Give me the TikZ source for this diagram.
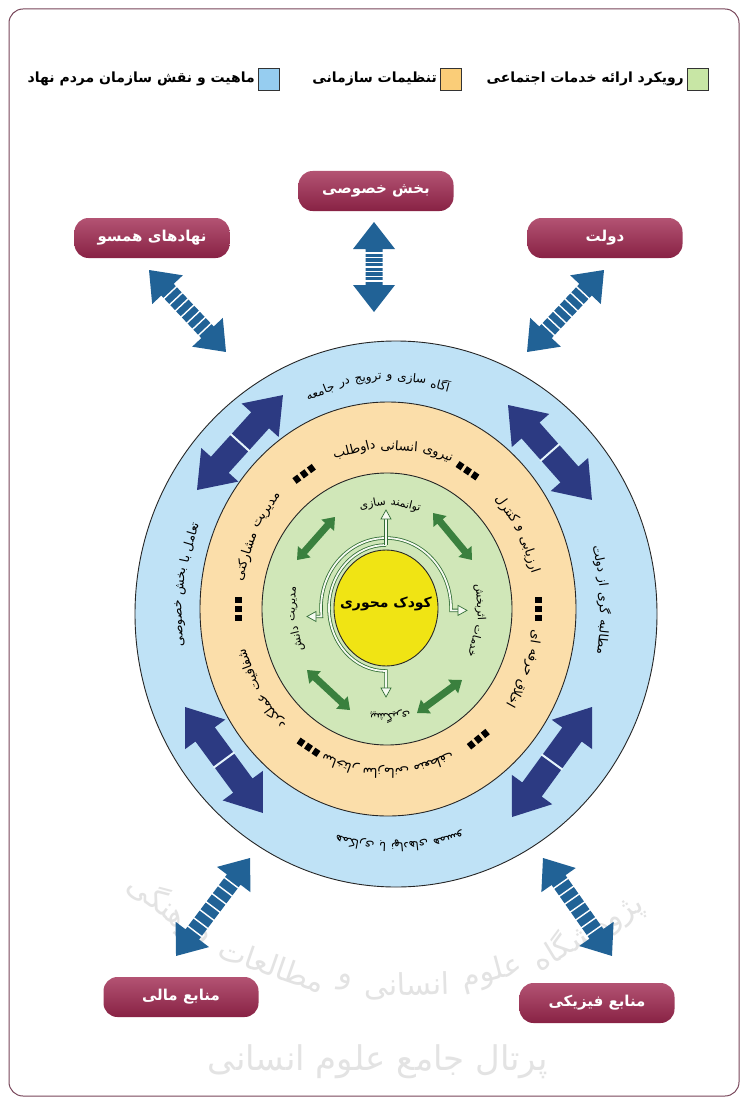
\documentclass[tikz,border=0pt]{standalone}
\usepackage{fontspec}
\usetikzlibrary{shapes.geometric}
\TeXXeTstate=1
\newfontfamily\pf[Script=Arabic]{DejaVu Sans}
\definecolor{ringblue}{RGB}{191,226,246}
\definecolor{ringorange}{RGB}{251,222,170}
\definecolor{ringgreen}{RGB}{208,231,184}
\definecolor{coreyellow}{RGB}{240,228,20}
\definecolor{boxred}{RGB}{160,40,80}
\definecolor{steelarrow}{RGB}{33,98,150}
\definecolor{navyarrow}{RGB}{44,58,130}
\definecolor{dkgreen}{RGB}{58,128,62}
\definecolor{legG}{RGB}{200,230,165}
\definecolor{legO}{RGB}{250,205,120}
\definecolor{legB}{RGB}{150,205,240}
\definecolor{framecol}{RGB}{120,70,90}

\newbox\awbox
\def\awsp{4}
\makeatletter
\newcommand{\awmeasure}[2]{%
  \begin{pgfinterruptpicture}%
    \setbox\awbox=\hbox{#1\beginR#2\endR}%
    \xdef\awwd{\strip@pt\wd\awbox}%
  \end{pgfinterruptpicture}}
% [dir]{name}{cx}{cy}{a}{b}{tc}{font}{words}
\newcommand{\arcwords}[9][1]{%
  \def\awtot{0}%
  \@for\w:=#9\do{%
    \awmeasure{#8}{\w}%
    \pgfmathsetmacro\awtot{\awtot+\awwd+\awsp}}%
  \pgfmathsetmacro\aws{100*sqrt((#5/100*sin(#7))^2+(#6/100*cos(#7))^2)}%
  \pgfmathsetmacro\awstart{#7-(#1)*(\awtot-\awsp)/2/\aws*57.29578}%
  \def\awcum{0}\def\awi{0}%
  \@for\w:=#9\do{%
    \awmeasure{#8}{\w}%
    \pgfmathsetmacro\awt{\awstart+(#1)*(\awcum+\awwd/2)/\aws*57.29578}%
    \pgfmathsetmacro\awx{#3+#5*cos(\awt)}%
    \pgfmathsetmacro\awy{#4-#6*sin(\awt)}%
    \pgfmathsetmacro\awr{atan2(#5*sin(\awt),#6*cos(\awt))-(#1)*90}%
    \pgfmathtruncatemacro\awi{\awi+1}%
    \node[inner sep=0, rotate=\awr] (#2\awi) at (\awx,\awy) {#8\beginR\w\endR};%
    \pgfmathsetmacro\awcum{\awcum+\awwd+\awsp}}%
}
\makeatother
% {from}{to}{shaft half}{head half}{head len}{style}{deco}
\newcommand{\blockarrow}[7]{%
  \pgfpointanchor{#1}{center}\pgfgetlastxy{\bxa}{\bya}%
  \pgfpointanchor{#2}{center}\pgfgetlastxy{\bxb}{\byb}%
  \pgfmathsetmacro\bang{atan2(\byb-\bya,\bxb-\bxa)}%
  \pgfmathsetmacro\blen{veclen(\bxb-\bxa,\byb-\bya)}%
  \begin{scope}[shift={(#1)}, rotate=\bang]
    \fill[#6] (0,0) -- (#5,#4) -- (#5,#3) -- ({\blen-#5},#3) -- ({\blen-#5},#4) -- (\blen,0)
      -- ({\blen-#5},-#4) -- ({\blen-#5},-#3) -- (#5,-#3) -- (#5,-#4) -- cycle;
    #7
  \end{scope}}
\newcommand{\ringsep}[2]{%
  \pgfmathsetmacro\rsepx{388+150*cos(#2)}%
  \pgfmathsetmacro\rsepy{609-163*sin(#2)}%
  \pgfmathsetmacro\rsepr{atan2(150*sin(#2),163*cos(#2))-90}%
  \node[inner sep=0, rotate=\rsepr] (#1) at (\rsepx,\rsepy)
    {\rule{6pt}{7pt}\hspace{3pt}\rule{6pt}{7pt}\hspace{3pt}\rule{6pt}{7pt}};}
\newcommand{\openhead}[3]{%
  \draw[dkgreen!85!black, fill=white!80!ringgreen, line width=0.7pt, shift={(#1,#2)}, rotate=#3]
    (0,0) -- (-9,5) -- (-9,-5) -- cycle;}

\tikzset{
  pill/.style={rounded corners=14pt, minimum width=155pt, minimum height=40pt, inner sep=0,
    top color=boxred!80!white, bottom color=boxred!85!black,
    font=\pf\bfseries\fontsize{15}{17}\selectfont, text=white},
  legsq/.style={draw=black!80, line width=0.9pt, minimum width=21pt, minimum height=22pt, inner sep=0},
  legtxt/.style={anchor=east, inner sep=0, font=\pf\bfseries\fontsize{14}{16}\selectfont},
  ring/.style={ellipse, draw=black!85, line width=0.9pt, inner sep=0},
  track/.style={draw=dkgreen!85!black, double=white!80!ringgreen, double distance=1.8pt, line width=0.8pt},
}

\begin{document}
\begin{tikzpicture}[x=1pt,y=-1pt]
\useasboundingbox (0,0) rectangle (748,1102);
\fill[white] (0,0) rectangle (748,1102);
\draw[framecol, line width=1pt, rounded corners=14pt] (9,9) rectangle (739,1096);

% watermark
\def\awsp{12}
\arcwords[-1]{wm}{395}{614}{372}{372}{268}{\pf\fontsize{30}{36}\selectfont\color{gray!22}}{پژوهشگاه,علوم,انسانی,و,مطالعات,فرهنگی}
\node[font=\pf\fontsize{34}{40}\selectfont, text=gray!22] (wmb) at (378,1062) {\beginR پرتال جامع علوم انسانی\endR};

% legend
\node[legsq, fill=legG] (lg1) at (698,79) {};
\node[legtxt] (lt1) at (684,79) {\beginR رویکرد ارائه خدمات اجتماعی\endR};
\node[legsq, fill=legO] (lg2) at (451,79) {};
\node[legtxt] (lt2) at (437,79) {\beginR تنظیمات سازمانی\endR};
\node[legsq, fill=legB] (lg3) at (269,79) {};
\node[legtxt] (lt3) at (255,79) {\beginR ماهیت و نقش سازمان مردم نهاد\endR};

% rings
\node[ring, fill=ringblue, minimum width=522pt, minimum height=546pt] (blue) at (396,614) {};
\node[ring, fill=ringorange, minimum width=376pt, minimum height=414pt] (orange) at (388,609) {};
\node[ring, fill=ringgreen, minimum width=250pt, minimum height=272pt] (green) at (387,609) {};
\node[ring, fill=coreyellow, minimum width=104pt, minimum height=116pt] (core) at (386,608) {};
\node[font=\pf\bfseries\fontsize{14}{17}\selectfont] (coretxt) at (386,604) {\beginR کودک محوری\endR};

% green tracks
\draw[track] (386,538) arc[start angle=-90, end angle=2, x radius=65, y radius=70] -- (459,610.4);
\draw[track] (386,538) arc[start angle=-90, end angle=-187, x radius=65, y radius=70] -- (315,616.5);
\draw[track] (386,545) arc[start angle=-90, end angle=-270, x radius=57, y radius=63] -- (386,688);
\draw[track] (386,545) -- (386,519);
\openhead{467}{610.4}{0}
\openhead{307}{616.5}{180}
\openhead{386}{697}{-90}
\openhead{386}{510}{90}

% blue ring texts
\def\awsp{5}
\arcwords{bt}{392}{612}{212}{234}{94}{\pf\fontsize{12}{14}\selectfont}{آگاه,سازی,و,ترویج,در,جامعه}
\arcwords{bl}{392}{612}{212}{234}{173}{\pf\fontsize{12.5}{14}\selectfont}{تعامل,با,بخش,خصوصی}
\arcwords{br}{392}{612}{212}{234}{3}{\pf\fontsize{12.5}{14}\selectfont}{مطالبه,گری,از,دولت}
\arcwords{bb}{392}{612}{212}{234}{272}{\pf\fontsize{12}{14}\selectfont}{همکاری,با,نهادهای,همسو}

% orange ring texts
\arcwords{ot}{388}{609}{150}{163}{88}{\pf\fontsize{13}{15}\selectfont}{نیروی,انسانی,داوطلب}
\arcwords{our}{388}{609}{150}{163}{28}{\pf\fontsize{13}{15}\selectfont}{ارزیابی,و,کنترل}
\arcwords{olr}{388}{609}{150}{163}{-22}{\pf\fontsize{13}{15}\selectfont}{اخلاق,حرفه,ای}
\arcwords{ob}{388}{609}{150}{163}{270}{\pf\fontsize{13}{15}\selectfont}{ساختار,سازمانی,منعطف}
\arcwords{oll}{388}{609}{150}{163}{210}{\pf\fontsize{13}{15}\selectfont}{شفافیت,عملکرد}
\arcwords{oul}{388}{609}{150}{163}{153}{\pf\fontsize{13}{15}\selectfont}{مدیریت,مشارکتی}
\ringsep{sp1}{58}
\ringsep{sp2}{0}
\ringsep{sp3}{-53}
\ringsep{sp4}{-122}
\ringsep{sp5}{180}
\ringsep{sp6}{124}

% green ring texts
\arcwords{gt}{387}{610}{92}{107}{88}{\pf\fontsize{11}{13}\selectfont}{توانمند,سازی}
\arcwords{gr}{387}{610}{93}{107}{-6}{\pf\fontsize{11}{13}\selectfont}{خدمات,اثربخش}
\arcwords{gb}{387}{610}{92}{107}{272}{\pf\fontsize{11}{13}\selectfont}{پیشگیری}
\arcwords{gl}{387}{610}{93}{107}{185}{\pf\fontsize{11}{13}\selectfont}{مدیریت,دانش}

% green double arrows
\coordinate (g1a) at (297,560); \coordinate (g1b) at (335,517);
\coordinate (g2a) at (433,513); \coordinate (g2b) at (472,560);
\coordinate (g3a) at (417,713); \coordinate (g3b) at (462,680);
\coordinate (g4a) at (307,670); \coordinate (g4b) at (350,710);
\blockarrow{g1a}{g1b}{3.5}{8.5}{11}{dkgreen}{}
\blockarrow{g2a}{g2b}{3.5}{8.5}{11}{dkgreen}{}
\blockarrow{g3a}{g3b}{3.5}{8.5}{11}{dkgreen}{}
\blockarrow{g4a}{g4b}{3.5}{8.5}{11}{dkgreen}{}

% navy double arrows in blue ring
\coordinate (n1a) at (197,490); \coordinate (n1b) at (283,395);
\coordinate (n2a) at (508,405); \coordinate (n2b) at (592,500);
\coordinate (n3a) at (185,707); \coordinate (n3b) at (263,813);
\coordinate (n4a) at (512,817); \coordinate (n4b) at (592,707);
\blockarrow{n1a}{n1b}{12}{25}{34}{navyarrow}{\draw[white!60!ringblue, line width=2pt] ({\blen*0.5},-13) -- ({\blen*0.5},13);}
\blockarrow{n2a}{n2b}{12}{25}{34}{navyarrow}{\draw[white!60!ringblue, line width=2pt] ({\blen*0.5},-13) -- ({\blen*0.5},13);}
\blockarrow{n3a}{n3b}{12}{25}{34}{navyarrow}{\draw[white!60!ringblue, line width=2pt] ({\blen*0.5},-13) -- ({\blen*0.5},13);}
\blockarrow{n4a}{n4b}{12}{25}{34}{navyarrow}{\draw[white!60!ringblue, line width=2pt] ({\blen*0.5},-13) -- ({\blen*0.5},13);}

% boxes
\node[pill] (bk) at (376,191) {\beginR بخش خصوصی\endR};
\node[pill] (nh) at (152,238) {\beginR نهادهای همسو\endR};
\node[pill] (dv) at (605,238) {\beginR دولت\endR};
\node[pill] (mm) at (181,997) {\beginR منابع مالی\endR};
\node[pill] (mf) at (597,1003) {\beginR منابع فیزیکی\endR};

% striped arrows
\coordinate (s1a) at (374,222); \coordinate (s1b) at (374,312);
\coordinate (s2a) at (149,270); \coordinate (s2b) at (226,352);
\coordinate (s3a) at (604,270); \coordinate (s3b) at (527,352);
\coordinate (s4a) at (250,858); \coordinate (s4b) at (176,956);
\coordinate (s5a) at (543,858); \coordinate (s5b) at (612,956);
\foreach \sa/\sb in {s1a/s1b,s2a/s2b,s3a/s3b,s4a/s4b,s5a/s5b}{
  \blockarrow{\sa}{\sb}{8.5}{21}{27}{steelarrow}{%
    \foreach \k in {0,...,6}{\pgfmathsetmacro\uu{31+\k*(\blen-62)/6}\draw[white, line width=1.4pt] (\uu,-10) -- (\uu,10);}}
}
\end{tikzpicture}
\end{document}
